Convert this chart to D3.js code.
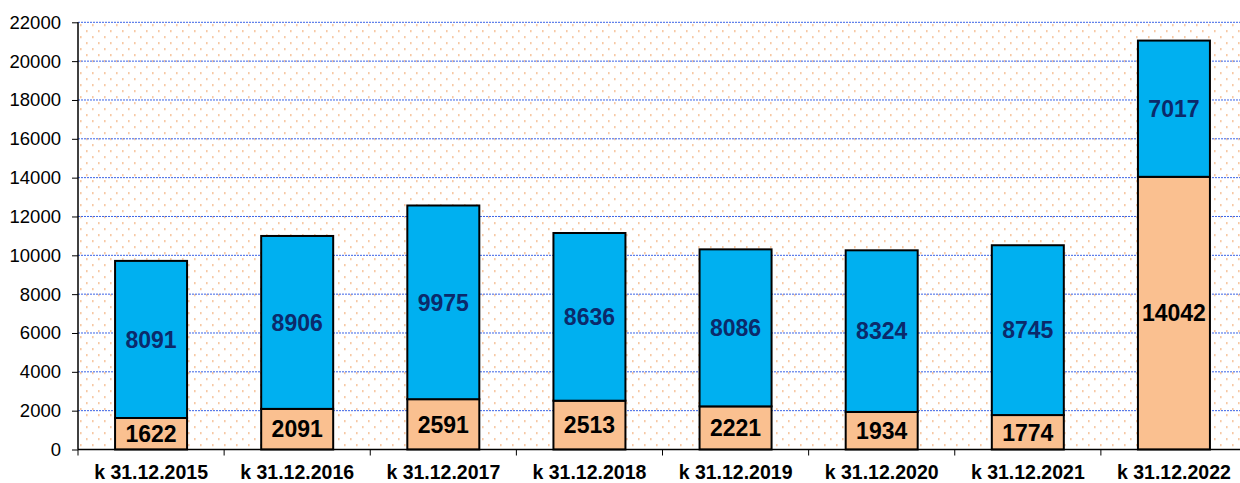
<!DOCTYPE html>
<html lang="cs">
<head>
<meta charset="utf-8">
<script src="https://cdn.jsdelivr.net/npm/d3@7"></script>
<style>
  body { margin: 0; background: #fff; }
  svg { display: block; font-family: "Liberation Sans", Arial, sans-serif; }
</style>
</head>
<body>
<div id="viz"></div>
<script>

var w = 1240, h = 483;

// data
var categories = ["k 31.12.2015", "k 31.12.2016", "k 31.12.2017", "k 31.12.2018",
                  "k 31.12.2019", "k 31.12.2020", "k 31.12.2021", "k 31.12.2022"];
var bottomValues = [1622, 2091, 2591, 2513, 2221, 1934, 1774, 14042];
var topValues = [8091, 8906, 9975, 8636, 8086, 8324, 8745, 7017];
var yTicks = [0, 2000, 4000, 6000, 8000, 10000, 12000, 14000, 16000, 18000, 20000, 22000];

// plot box (window.top is taken, so plain names)
var pLeft = 78, pRight = 1247, pTop = 22.3, pBottom = 449.5;

var svg = d3.select("#viz").append("svg")
  .attr("width", w).attr("height", h);

var defs = svg.append("defs");
var pat = defs.append("pattern")
  .attr("id", "dots")
  .attr("patternUnits", "userSpaceOnUse")
  .attr("x", pLeft + 2).attr("y", pTop + 2)
  .attr("width", 12).attr("height", 12);
pat.append("rect").attr("x", 0).attr("y", 0).attr("width", 1.6).attr("height", 1.6).attr("fill", "#f4b280");
pat.append("rect").attr("x", 6).attr("y", 6).attr("width", 1.6).attr("height", 1.6).attr("fill", "#f4b280");

var x = d3.scaleBand().domain(categories).range([pLeft, pRight]).paddingInner(0).paddingOuter(0);
var y = d3.scaleLinear().domain([0, 22000]).range([pBottom, pTop]);

// plot background
svg.append("rect")
  .attr("x", pLeft).attr("y", pTop)
  .attr("width", pRight - pLeft).attr("height", pBottom - pTop)
  .attr("fill", "url(#dots)");

// grid lines
svg.append("g").selectAll("line")
  .data(yTicks.filter(d => d > 0))
  .enter().append("line")
  .attr("x1", pLeft).attr("x2", pRight)
  .attr("y1", d => y(d)).attr("y2", d => y(d))
  .attr("stroke", "#3b63e6")
  .attr("stroke-width", 1)
  .attr("stroke-dasharray", "2,1");

// bars
var barW = 72;
var bx = d => x(d) + (x.bandwidth() - barW) / 2;

var g = svg.append("g");
g.selectAll(".bot")
  .data(categories)
  .enter().append("rect")
  .attr("class", "bot")
  .attr("x", bx)
  .attr("y", (d, i) => y(bottomValues[i]))
  .attr("width", barW)
  .attr("height", (d, i) => y(0) - y(bottomValues[i]))
  .attr("fill", "#fac090")
  .attr("stroke", "#000")
  .attr("stroke-width", 2);

g.selectAll(".top")
  .data(categories)
  .enter().append("rect")
  .attr("class", "top")
  .attr("x", bx)
  .attr("y", (d, i) => y(bottomValues[i] + topValues[i]))
  .attr("width", barW)
  .attr("height", (d, i) => y(bottomValues[i]) - y(bottomValues[i] + topValues[i]))
  .attr("fill", "#00b0f0")
  .attr("stroke", "#000")
  .attr("stroke-width", 2);

// value labels
g.selectAll(".lbot")
  .data(categories)
  .enter().append("text")
  .attr("class", "lbot")
  .attr("x", d => x(d) + x.bandwidth() / 2)
  .attr("y", (d, i) => y(bottomValues[i] / 2))
  .attr("dy", "0.36em")
  .attr("text-anchor", "middle")
  .attr("font-size", 23)
  .attr("font-weight", "bold")
  .attr("fill", "#000")
  .text((d, i) => bottomValues[i]);

g.selectAll(".ltop")
  .data(categories)
  .enter().append("text")
  .attr("class", "ltop")
  .attr("x", d => x(d) + x.bandwidth() / 2)
  .attr("y", (d, i) => y(bottomValues[i] + topValues[i] / 2))
  .attr("dy", "0.36em")
  .attr("text-anchor", "middle")
  .attr("font-size", 23)
  .attr("font-weight", "bold")
  .attr("fill", "#0b2a6b")
  .text((d, i) => topValues[i]);

// y axis
var yAxis = d3.axisLeft(y).tickValues(yTicks).tickSize(6).tickPadding(11).tickFormat(d3.format("d"));
var ya = svg.append("g").attr("transform", "translate(" + pLeft + ",0)").call(yAxis);
ya.select(".domain").attr("stroke", "#000").attr("stroke-width", 1.5).attr("d", "M0," + pTop + "V" + pBottom);
ya.selectAll(".tick line").attr("stroke", "#000");
ya.selectAll(".tick text")
  .attr("font-size", 18.5)
  .attr("font-family", "Liberation Sans, Arial, sans-serif")
  .attr("fill", "#000");

// x axis
var xa = svg.append("g").attr("transform", "translate(0," + pBottom + ")");
xa.append("line")
  .attr("x1", pLeft).attr("x2", pRight)
  .attr("stroke", "#000").attr("stroke-width", 1.5);
xa.selectAll(".xt")
  .data(categories.concat(["end"]))
  .enter().append("line")
  .attr("class", "xt")
  .attr("x1", d => d === "end" ? pRight : x(d))
  .attr("x2", d => d === "end" ? pRight : x(d))
  .attr("y1", 0).attr("y2", 6)
  .attr("stroke", "#000");
xa.selectAll(".xl")
  .data(categories)
  .enter().append("text")
  .attr("class", "xl")
  .attr("x", d => x(d) + x.bandwidth() / 2)
  .attr("y", 29.5)
  .attr("text-anchor", "middle")
  .attr("font-size", 19.5)
  .attr("font-weight", "bold")
  .attr("fill", "#000")
  .text(d => d);

</script>
</body>
</html>
